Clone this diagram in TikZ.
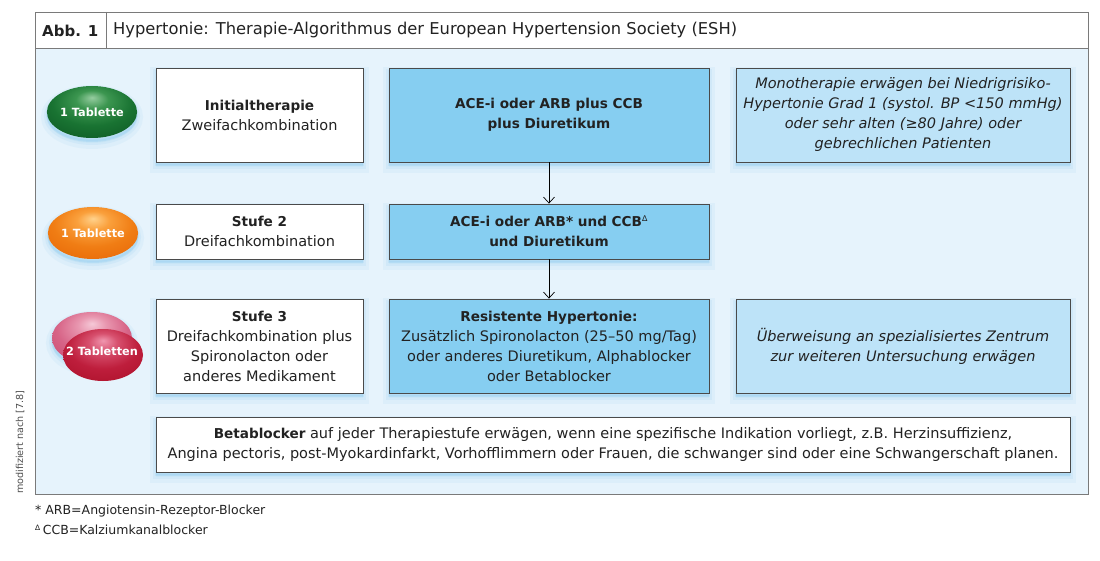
\documentclass[tikz,border=0pt]{standalone}
\usepackage{fontspec}
\setmainfont{DejaVu Sans}
\usetikzlibrary{arrows.meta,shapes.geometric}
\definecolor{framegray}{HTML}{7A7A7A}
\definecolor{bgblue}{HTML}{E6F3FC}
\definecolor{boxblue}{HTML}{86CEF1}
\definecolor{lightbox}{HTML}{BDE3F8}
\definecolor{boxline}{HTML}{4A4A4A}
\definecolor{txt}{HTML}{222222}
\definecolor{glowc}{HTML}{8CCBF0}
\newcommand{\bx}[1]{{\fontsize{13.6}{20}\selectfont\bfseries #1}}
\pgfdeclareradialshading{greenpill}{\pgfpoint{0bp}{14bp}}{color(0bp)=(rgb,255:red,150;green,205;blue,160); color(9bp)=(rgb,255:red,60;green,150;blue,80); color(22bp)=(rgb,255:red,25;green,115;blue,50); color(40bp)=(rgb,255:red,12;green,85;blue,35); color(60bp)=(rgb,255:red,8;green,70;blue,28)}
\pgfdeclareradialshading{orangepill}{\pgfpoint{0bp}{14bp}}{color(0bp)=(rgb,255:red,255;green,210;blue,140); color(9bp)=(rgb,255:red,250;green,160;blue,60); color(22bp)=(rgb,255:red,240;green,125;blue,20); color(40bp)=(rgb,255:red,230;green,100;blue,5); color(60bp)=(rgb,255:red,215;green,90;blue,0)}
\pgfdeclareradialshading{redpill}{\pgfpoint{0bp}{14bp}}{color(0bp)=(rgb,255:red,240;green,150;blue,175); color(9bp)=(rgb,255:red,215;green,80;blue,110); color(22bp)=(rgb,255:red,190;green,30;blue,60); color(40bp)=(rgb,255:red,170;green,15;blue,40); color(60bp)=(rgb,255:red,150;green,10;blue,30)}
\pgfdeclareradialshading{pinkpill}{\pgfpoint{0bp}{14bp}}{color(0bp)=(rgb,255:red,245;green,200;blue,215); color(9bp)=(rgb,255:red,232;green,150;blue,175); color(22bp)=(rgb,255:red,215;green,100;blue,135); color(40bp)=(rgb,255:red,200;green,70;blue,110); color(60bp)=(rgb,255:red,185;green,50;blue,90)}
\tikzset{
  glow/.style={
    preaction={draw=glowc, line width=12pt, draw opacity=0.10, fill=glowc, fill opacity=0.10, transform canvas={yshift=-5pt}},
    preaction={draw=glowc, line width=6pt, draw opacity=0.15, fill=glowc, fill opacity=0.15, transform canvas={yshift=-4pt}},
    preaction={draw=glowc, line width=2pt, draw opacity=0.2, fill=glowc, fill opacity=0.2, transform canvas={yshift=-3pt}}},
  basebox/.style={draw=boxline, line width=0.8pt, align=center, text=txt,
    inner sep=4pt, font=\fontsize{14.5}{20}\selectfont, glow},
  whitebox/.style={basebox, fill=white},
  bluebox/.style={basebox, fill=boxblue},
  notebox/.style={basebox, fill=lightbox, font=\fontsize{14.5}{20}\selectfont\itshape},
  pill/.style={ellipse, minimum width=80pt, minimum height=52pt, inner sep=0pt,
    text=white, font=\fontsize{11.3}{14}\selectfont\bfseries},
  arr/.style={-{Straight Barb[length=6pt,width=11pt]}, line width=0.7pt, black},
}
\begin{document}
\begin{tikzpicture}[x=1pt,y=-1pt]
\useasboundingbox (0,0) rectangle (1100,561);
\fill[white] (0,0) rectangle (1100,561);
% frame
\draw[framegray, fill=white, line width=0.8pt] (35,12) rectangle (1088,48);
\draw[framegray, fill=bgblue, line width=0.8pt] (35,48) rectangle (1088,494);
\draw[framegray, line width=0.8pt] (106,12) -- (106,48);
\node[anchor=west, font=\fontsize{15}{18}\selectfont\bfseries, text=txt, inner sep=0pt] (abb) at (42,30.5) {Abb. 1};
\node[anchor=west, font=\fontsize{16.3}{18}\selectfont, text=txt, inner sep=0pt] (title) at (113,30.5) {Hypertonie: Therapie-Algorithmus der European Hypertension Society (ESH)};
% row 1
\node[whitebox, minimum width=207pt, minimum height=94pt] (init) at (259.5,115) {\bx{Initialtherapie}\\Zweifachkombination};
\node[bluebox, minimum width=320pt, minimum height=94pt] (ace1) at (549,115) {\bx{ACE-i oder ARB plus CCB}\\\bx{plus Diuretikum}};
\node[notebox, minimum width=334pt, minimum height=94pt] (mono) at (903,115) {Monotherapie erwägen bei Niedrigrisiko-\\Hypertonie Grad 1 (systol. BP <150 mmHg)\\oder sehr alten (≥80 Jahre) oder\\gebrechlichen Patienten};
% row 2
\node[whitebox, minimum width=207pt, minimum height=55pt] (st2) at (259.5,231.5) {\bx{Stufe 2}\\Dreifachkombination};
\node[bluebox, minimum width=320pt, minimum height=55pt] (ace2) at (549,231.5) {\bx{ACE-i oder ARB* und CCB}\textsuperscript{\fontsize{8}{8}\selectfont ∆}\\\bx{und Diuretikum}};
% row 3
\node[whitebox, minimum width=207pt, minimum height=94pt] (st3) at (259.5,346) {\bx{Stufe 3}\\Dreifachkombination plus\\Spironolacton oder\\anderes Medikament};
\node[bluebox, minimum width=320pt, minimum height=94pt] (res) at (549,346) {\bx{Resistente Hypertonie:}\\Zusätzlich Spironolacton (25–50 mg/Tag)\\oder anderes Diuretikum, Alphablocker\\oder Betablocker};
\node[notebox, minimum width=334pt, minimum height=94pt] (ueb) at (903,346) {Überweisung an spezialisiertes Zentrum\\zur weiteren Untersuchung erwägen};
% row 4
\node[whitebox, minimum width=914pt, minimum height=55pt] (beta) at (613,444.5) {\bx{Betablocker} auf jeder Therapiestufe erwägen, wenn eine spezifische Indikation vorliegt, z.B. Herzinsuffizienz,\\Angina pectoris, post-Myokardinfarkt, Vorhofflimmern oder Frauen, die schwanger sind oder eine Schwangerschaft planen.};
% arrows
\draw[arr] (ace1) -- (ace2);
\draw[arr] (ace2) -- (res);
% pills
\node[pill, shading=greenpill, glow] (p1) at (92,112) {1 Tablette};
\node[pill, shading=orangepill, glow] (p2) at (93,233) {1 Tablette};
\node[pill, shading=pinkpill, glow] (p3b) at (92,338) {};
\node[pill, shading=redpill] (p3) at (103,355) {};
\node[text=white, font=\fontsize{11.3}{14}\selectfont\bfseries] (p3t) at (102,351) {2 Tabletten};
% side text
\node[rotate=90, anchor=west, font=\fontsize{9.6}{12}\selectfont, text=txt!80, inner sep=0pt] (mod) at (20,494) {modifiziert nach [7.8]};
% footnotes
\node[anchor=west, font=\fontsize{12.5}{14}\selectfont, text=txt, inner sep=0pt] (fn1) at (35,511) {* ARB=Angiotensin-Rezeptor-Blocker};
\node[anchor=west, font=\fontsize{12.5}{14}\selectfont, text=txt, inner sep=0pt] (fn2) at (35,530) {\textsuperscript{\fontsize{7.5}{7.5}\selectfont ∆}\,CCB=Kalziumkanalblocker};
\end{tikzpicture}
\end{document}
